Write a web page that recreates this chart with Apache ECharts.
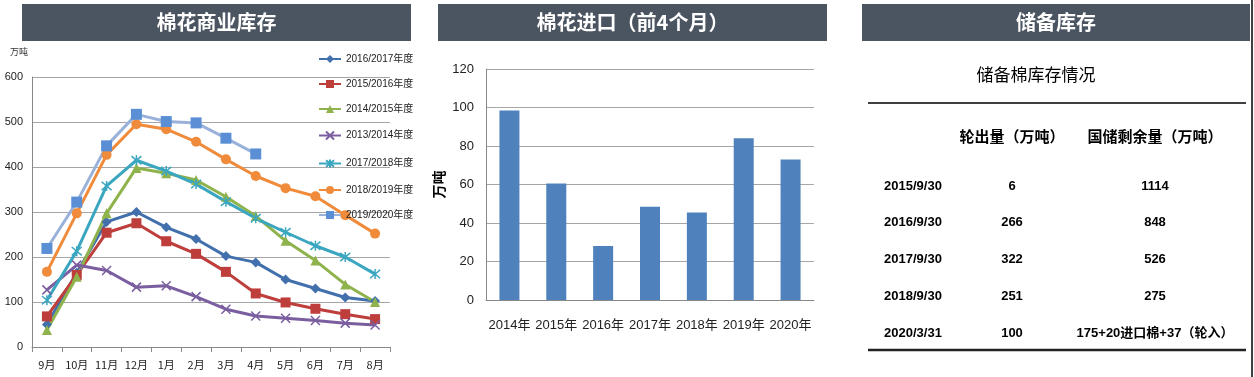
<!DOCTYPE html>
<html>
<head>
<meta charset="utf-8">
<script src="https://cdn.jsdelivr.net/npm/echarts@6/dist/echarts.min.js"></script>
<style>
  html, body { margin: 0; padding: 0; background: #fff; }
  #main { width: 1254px; height: 377px; }
</style>
</head>
<body>
<div id="main"></div>
<script>
// 商业库存 (万吨)
var months = ['9月', '10月', '11月', '12月', '1月', '2月', '3月', '4月', '5月', '6月', '7月', '8月'];
var s1617 = [50, 165, 278, 300, 266, 240, 202, 188, 150, 130, 110, 102];
var s1516 = [68, 160, 254, 275, 235, 207, 167, 119, 99, 85, 73, 62];
var s1415 = [38, 156, 297, 398, 386, 371, 334, 291, 236, 192, 139, 100];
var s1314 = [127, 182, 170, 133, 136, 112, 84, 69, 64, 59, 53, 49];
var s1718 = [104, 213, 358, 415, 391, 362, 323, 286, 255, 225, 200, 162];
var s1819 = [167, 297, 427, 495, 484, 456, 417, 380, 353, 335, 293, 252];
var s1920 = [219, 322, 447, 517, 501, 498, 464, 429];

// 进口 (前4个月)
var years = ['2014年', '2015年', '2016年', '2017年', '2018年', '2019年', '2020年'];
var imports = [98.5, 60.5, 28, 48.5, 45.5, 84, 73];

// 储备库存表
var colHeads = ['轮出量（万吨）', '国储剩余量（万吨）'];
var dates = ['2015/9/30', '2016/9/30', '2017/9/30', '2018/9/30', '2020/3/31'];
var outVals = ['6', '266', '322', '251', '100'];
var remainVals = ['1114', '848', '526', '275', '175+20进口棉+37（轮入）'];

var chart = echarts.init(document.getElementById('main'));

var CJK = '"Noto Sans CJK SC", "Liberation Sans", sans-serif';
var NUM = '"Liberation Sans Narrow", "Liberation Sans", "Noto Sans CJK SC", sans-serif';

var xMark = 'path://M0,0L10,10M10,0L0,10';
var starMark = 'path://M0,0L10,10M10,0L0,10M5,-1L5,11';

function lineSeries(name, data, color, symbol, size, extra) {
	var s = {
		name: name,
		type: 'line',
		xAxisIndex: 0,
		yAxisIndex: 0,
		data: data,
		symbol: symbol,
		symbolSize: size,
		showAllSymbol: true,
		lineStyle: { width: 3, color: color },
		itemStyle: { color: color }
	};
	if (extra) {
		for (var k in extra) s[k] = extra[k];
	}
	return s;
}

// 标题栏
function band(x, w, text) {
	return {
		type: 'group',
		children: [
			{ type: 'rect', shape: { x: x, y: 4, width: w, height: 37 }, style: { fill: '#4b5461' } },
			{ type: 'text', x: x + w / 2, y: 22.5, style: { text: text, fill: '#fff', font: 'bold 20px ' + CJK, align: 'center', verticalAlign: 'middle' } }
		]
	};
}

var graphics = [
	band(22, 389, '棉花商业库存'),
	band(438, 389, '棉花进口（前4个月）'),
	band(862, 388, '储备库存'),
	{ type: 'text', x: 10, y: 47, style: { text: '万吨', fill: '#333', font: '9px ' + CJK } },
	{ type: 'line', shape: { x1: 1252, y1: 0, x2: 1252, y2: 377 }, style: { stroke: '#000', lineWidth: 1.5 } },
	{ type: 'text', x: 1036, y: 75, style: { text: '储备棉库存情况', fill: '#000', font: '17px ' + CJK, align: 'center', verticalAlign: 'middle' } },
	{ type: 'line', shape: { x1: 868, y1: 103, x2: 1246, y2: 103 }, style: { stroke: '#000', lineWidth: 1.5 } },
	{ type: 'line', shape: { x1: 868, y1: 350, x2: 1246, y2: 350 }, style: { stroke: '#222', lineWidth: 2.5 } }
];

var colX = [913, 1012, 1155];
colHeads.forEach(function(h, i) {
	graphics.push({ type: 'text', x: colX[i + 1], y: 136, style: { text: h, fill: '#000', font: 'bold 15px ' + CJK, align: 'center', verticalAlign: 'middle' } });
});
dates.forEach(function(d, i) {
	var y = 186 + i * 36.8;
	[d, outVals[i], remainVals[i]].forEach(function(t, j) {
		graphics.push({ type: 'text', x: colX[j], y: y, style: { text: t, fill: '#000', font: 'bold 13px ' + NUM, align: 'center', verticalAlign: 'middle' } });
	});
});

var option = {
	animation: false,
	textStyle: { fontFamily: CJK },
	graphic: graphics,
	legend: {
		orient: 'vertical',
		left: 313,
		top: 49,
		itemWidth: 22,
		itemHeight: 10,
		itemGap: 15,
		textStyle: { fontSize: 10, color: '#222', fontFamily: NUM },
		data: ['2016/2017年度', '2015/2016年度', '2014/2015年度', '2013/2014年度', '2017/2018年度', '2018/2019年度', '2019/2020年度']
	},
	grid: [
		{ left: 32, top: 77, width: 358, height: 270 },
		{ left: 486, top: 69, width: 328, height: 231 }
	],
	xAxis: [
		{
			type: 'category', gridIndex: 0, data: months,
			axisLine: { lineStyle: { color: '#888' } },
			axisTick: { show: true, length: 5, lineStyle: { color: '#888' } },
			axisLabel: { color: '#222', fontSize: 11, margin: 12, interval: 0 }
		},
		{
			type: 'category', gridIndex: 1, data: years,
			axisLine: { lineStyle: { color: '#888' } },
			axisTick: { show: false },
			axisLabel: { color: '#222', fontSize: 13, margin: 19, interval: 0, fontFamily: NUM }
		}
	],
	yAxis: [
		{
			type: 'value', gridIndex: 0, min: 0, max: 600, interval: 100,
			axisLine: { show: true, lineStyle: { color: '#888' } },
			axisTick: { show: false },
			splitLine: { lineStyle: { color: '#a6a6a6' } },
			axisLabel: { color: '#222', fontSize: 11, margin: 9, fontFamily: NUM }
		},
		{
			type: 'value', gridIndex: 1, min: 0, max: 120, interval: 20,
			name: '万吨', nameLocation: 'middle', nameRotate: 90, nameGap: 40,
			nameTextStyle: { fontSize: 14, fontWeight: 'bold', color: '#000' },
			axisLine: { show: true, lineStyle: { color: '#888' } },
			axisTick: { show: false },
			splitLine: { lineStyle: { color: '#a6a6a6' } },
			axisLabel: { color: '#222', fontSize: 13, margin: 12, fontFamily: NUM }
		}
	],
	series: [
		lineSeries('2016/2017年度', s1617, '#4170ad', 'diamond', 10),
		lineSeries('2015/2016年度', s1516, '#bd3e3b', 'rect', 10),
		lineSeries('2014/2015年度', s1415, '#8fb34c', 'triangle', 10),
		lineSeries('2013/2014年度', s1314, '#7b5ea0', xMark, 9, { itemStyle: { color: 'none', borderColor: '#7b5ea0', borderWidth: 1.5 } }),
		lineSeries('2017/2018年度', s1718, '#3ba6c0', starMark, 10, { itemStyle: { color: 'none', borderColor: '#3ba6c0', borderWidth: 1.5 } }),
		lineSeries('2018/2019年度', s1819, '#ef8b3b', 'circle', 10),
		lineSeries('2019/2020年度', s1920, '#9ab2d9', 'rect', 11, { itemStyle: { color: '#5a8fd6' } }),
		{
			name: '进口', type: 'bar', xAxisIndex: 1, yAxisIndex: 1,
			data: imports, barWidth: 20,
			itemStyle: { color: '#4f81bd' }
		}
	]
};

chart.setOption(option);
</script>
</body>
</html>
